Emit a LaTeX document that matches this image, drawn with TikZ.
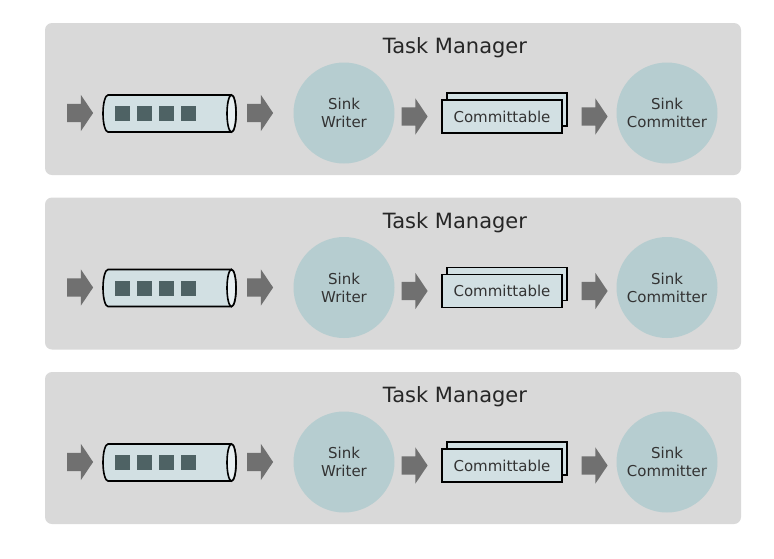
\documentclass[tikz,border=0pt]{standalone}
\usepackage{fontspec}
\setmainfont{DejaVu Sans}
\usetikzlibrary{shapes.arrows,shadows}
\definecolor{panelgray}{RGB}{217,217,217}
\definecolor{sinkteal}{RGB}{182,205,208}
\definecolor{queuefill}{RGB}{210,224,227}
\definecolor{slotgray}{RGB}{78,98,100}
\definecolor{arrowgray}{RGB}{112,112,112}
\tikzset{
	blockarrow/.style={single arrow, fill=arrowgray, draw=none, inner sep=0pt, text height=18pt, text depth=0pt, minimum height=26pt, minimum width=36pt, single arrow head extend=9pt, single arrow tip angle=112, single arrow head indent=0pt},
	sink/.style={circle, fill=sinkteal, minimum size=101pt, inner sep=0pt, align=center, font=\fontsize{15}{18}\selectfont, text=black!80},
	commitbox/.style={rectangle, draw=black, line width=1.4pt, fill=queuefill, minimum width=120pt, minimum height=33pt, inner sep=0pt, font=\fontsize{15}{18}\selectfont, text=black!80, copy shadow={shadow xshift=5pt, shadow yshift=7pt}},
	title/.style={font=\fontsize{21}{25}\selectfont, text=black!85}
}
\def\taskpanel(#1)#2{
	\fill[panelgray, rounded corners=7pt] (45, #1) rectangle (741, #1+152);
	\node[title] (title#2) at (455, #1+25) {Task Manager};
	
	\node[blockarrow] (in#2) at (77, #1+90) {};
	\draw[line width=1.6pt, fill=queuefill] (108, #1+72) -- (231.5, #1+72) arc (-90:90:4.5 and 18.5) -- (108, #1+109) arc (90:270:5 and 18.5) -- cycle;
	\draw[line width=1.6pt, fill=queuefill!50!white] (231.5, #1+90.5) ellipse (4.5 and 18.5);
	\fill[slotgray] (115, #1+83) rectangle (130, #1+98);
	\fill[slotgray] (137, #1+83) rectangle (152, #1+98);
	\fill[slotgray] (159, #1+83) rectangle (174, #1+98);
	\fill[slotgray] (181, #1+83) rectangle (196, #1+98);
	\node[blockarrow] (out#2) at (257, #1+90) {};
	
	\node[sink] (writer#2) at (344, #1+90) {Sink\\Writer};
	\node[blockarrow] (emit#2) at (411.5, #1+93.5) {};
	\node[commitbox] (commit#2) at (502, #1+93.5) {Committable};
	\node[blockarrow] (pass#2) at (591.5, #1+93.5) {};
	\node[sink] (committer#2) at (667, #1+90) {Sink\\Committer};
}

\begin{document}
\begin{tikzpicture}[x=1pt, y=-1pt]
	\useasboundingbox (0, 0) rectangle (774, 558);
	
	\taskpanel(23){A}
	\taskpanel(197.5){B}
	\taskpanel(372){C}
	
\end{tikzpicture}
\end{document}
